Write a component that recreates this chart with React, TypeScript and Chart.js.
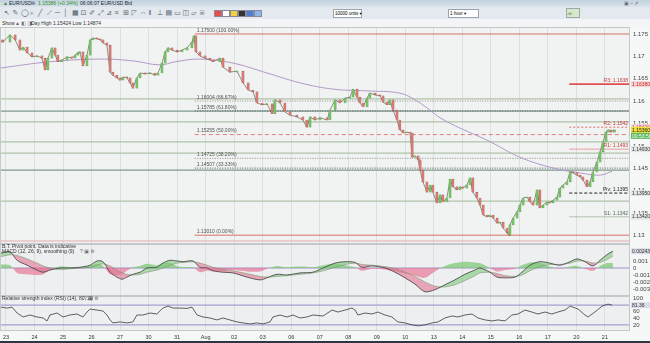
import React, { useEffect, useRef } from "react";
import { Chart, registerables } from "chart.js";

Chart.register(...registerables);

const FONT = "'Liberation Sans', 'DejaVu Sans', Arial, sans-serif";

// ---------------- DATA ----------------
const dayLabels = ["23", "24", "25", "26", "27", "30", "31", "Aug", "02", "03", "06", "07", "08", "09", "10", "13", "14", "15", "16", "17", "20", "21"];

const priceDays = [
  -0.21, -0.11, 0.14, 0.32, 0.49, 0.6, 0.74, 0.91, 1.09, 1.26,
  1.37, 1.47, 1.61, 1.72, 1.82, 1.96, 2.14, 2.31, 2.42, 2.52,
  2.59, 2.7, 2.84, 2.95, 3.05, 3.19, 3.3, 3.4, 3.54, 3.65,
  3.75, 3.89, 4.0, 4.1, 4.24, 4.35, 4.45, 4.59, 4.7, 4.87,
  5.05, 5.22, 5.33, 5.47, 5.58, 5.68, 5.82, 6.0, 6.17, 6.35,
  6.52, 6.59, 6.66, 6.8, 6.98, 7.15, 7.26, 7.5, 7.61, 7.85,
  8.1, 8.31, 8.49, 8.66, 8.8, 8.98, 9.15, 9.33, 9.43, 9.61,
  9.78, 9.96, 10.2, 10.41, 10.55, 10.66, 10.83, 11.01, 11.26, 11.36,
  11.54, 11.71, 11.89, 12.06, 12.17, 12.31, 12.41, 12.52, 12.66, 12.76,
  12.94, 13.11, 13.22, 13.36, 13.46, 13.57, 13.71, 13.81, 13.92, 14.06,
  14.17, 14.24, 14.34, 14.45, 14.52, 14.62, 14.76, 14.87, 14.97, 15.11,
  15.22, 15.32, 15.46, 15.57, 15.67, 15.81, 15.92, 16.02, 16.16, 16.27,
  16.37, 16.51, 16.62, 16.73, 16.87, 16.97, 17.08, 17.22, 17.32, 17.43,
  17.57, 17.64, 17.67, 17.78, 17.92, 18.02, 18.13, 18.27, 18.37, 18.48,
  18.62, 18.72, 18.83, 18.97, 19.07, 19.18, 19.32, 19.42, 19.53, 19.67,
  19.78, 19.88, 20.02, 20.13, 20.23, 20.37, 20.48, 20.58, 20.72, 20.83,
  20.93, 21.04, 21.11, 21.21, 21.33,
];

const priceClose = [
  1.1737, 1.1732, 1.1748, 1.1737, 1.1714, 1.1721, 1.1708, 1.1699, 1.1701, 1.1696,
  1.167, 1.1696, 1.1719, 1.1703, 1.1688, 1.1692, 1.1699, 1.1696, 1.1703, 1.1708,
  1.171, 1.1679, 1.1703, 1.1737, 1.1741, 1.1739, 1.1737, 1.173, 1.1725, 1.1665,
  1.1658, 1.1652, 1.1647, 1.1654, 1.1652, 1.1641, 1.1629, 1.1652, 1.1663, 1.1661,
  1.1663, 1.1658, 1.1663, 1.1685, 1.171, 1.1719, 1.1714, 1.171, 1.1714, 1.1719,
  1.1732, 1.1746, 1.171, 1.1701, 1.1696, 1.1692, 1.1688, 1.1696, 1.1676, 1.1665,
  1.1667, 1.1641, 1.1625, 1.1621, 1.1596, 1.1592, 1.1594, 1.1572, 1.1603, 1.1596,
  1.1576, 1.1569, 1.1565, 1.1558, 1.1542, 1.1565, 1.1558, 1.1563, 1.1558, 1.158,
  1.1603, 1.1596, 1.1607, 1.1609, 1.1627, 1.1609, 1.1596, 1.1587, 1.1607, 1.1618,
  1.1614, 1.1612, 1.1598, 1.1592, 1.1603, 1.158, 1.1558, 1.1536, 1.1529, 1.1531,
  1.1529, 1.1475, 1.1478, 1.1469, 1.1446, 1.142, 1.1397, 1.1413, 1.1397, 1.1373,
  1.1391, 1.1375, 1.1384, 1.1426, 1.1409, 1.1402, 1.1409, 1.1406, 1.1413, 1.1429,
  1.1397, 1.1384, 1.1368, 1.1346, 1.1342, 1.1346, 1.1339, 1.1328, 1.133, 1.1317,
  1.1306, 1.1301, 1.1324, 1.1339, 1.1353, 1.1368, 1.1384, 1.1386, 1.1375, 1.1368,
  1.1402, 1.1362, 1.1368, 1.1375, 1.1373, 1.1379, 1.1386, 1.1406, 1.1413, 1.142,
  1.1442, 1.144, 1.1435, 1.1431, 1.1424, 1.1409, 1.142, 1.1442, 1.1464, 1.1487,
  1.1509, 1.1531, 1.1536, 1.1531, 1.1536,
];
const firstOpen = 1.173;

const maDays = [-0.21, 1.54, 3.3, 4.45, 5.4, 5.93, 6.8, 7.96, 9.15, 10.31, 11.47, 12.66, 13.81, 14.34, 14.87, 15.22, 15.92, 16.87, 18.02, 19.18, 20.13, 20.83, 21.25];
const maValues = [1.1674, 1.1688, 1.1694, 1.169, 1.1681, 1.1688, 1.1694, 1.1685, 1.1663, 1.1641, 1.1627, 1.1623, 1.1618, 1.1603, 1.158, 1.1563, 1.154, 1.1513, 1.1475, 1.1451, 1.144, 1.1435, 1.1444];

const priceTicks = [1.13, 1.135, 1.14, 1.145, 1.15, 1.155, 1.16, 1.165, 1.17, 1.175];

const supportLevels = [1.1605, 1.1578, 1.1554, 1.1509, 1.1484, 1.1446, 1.1377];
const supportKinds = ["minor", "major", "minor", "minor", "minor", "major", "minor"];
const lowBandLevel = 1.1288;

const fibStartDay = 6.62;
const fibLevels = [1.175, 1.16004, 1.15785, 1.15255, 1.14725, 1.14507, 1.1301];
const fibPercents = ["100.00%", "66.67%", "61.80%", "50.00%", "38.20%", "33.33%", "0.00%"];

const pivotStartDay = 19.75;
const pivotNames = ["R3", "R2", "R1", "Piv", "S1"];
const pivotLevels = [1.1638, 1.1542, 1.1493, 1.1395, 1.1342];
const candleTimer = "00:53:56";

const macdDays = [-0.21, 0.14, 0.39, 0.74, 1.09, 1.3, 1.54, 1.89, 2.24, 2.59, 2.95, 3.19, 3.4, 3.65, 3.89, 4.07, 4.24, 4.45, 4.7, 4.94, 5.29, 5.5, 5.75, 6.0, 6.21, 6.56, 6.8, 7.05, 7.26, 7.61, 7.96, 8.45, 8.91, 9.15, 9.5, 9.85, 10.31, 10.76, 11.12, 11.54, 11.89, 12.24, 12.48, 12.83, 13.29, 13.64, 13.99, 14.34, 14.69, 15.04, 15.39, 15.74, 16.09, 16.44, 16.62, 16.97, 17.22, 17.5, 17.85, 18.09, 18.37, 18.72, 19.07, 19.42, 19.78, 20.02, 20.3, 20.58, 20.83, 21.07, 21.28];
const macdValues = [0.0021, 0.0023, 0.0011, 0.0004, -0.0003, -0.0006, -0.0003, 0.0, 0.0, 0.0001, 0.0004, 0.001, 0.0009, -0.0006, -0.0013, -0.0016, -0.0013, -0.0009, -0.0006, 0.0, 0.0001, 0.0007, 0.0011, 0.001, 0.0009, 0.001, 0.0001, 0.0, -0.0004, -0.0006, -0.0007, -0.0013, -0.0017, -0.0014, -0.0009, -0.001, -0.0007, -0.0006, 0.0, 0.0007, 0.0009, 0.0008, 0.0001, 0.0003, 0.0, -0.0006, -0.0014, -0.0023, -0.0034, -0.0031, -0.0024, -0.0017, -0.0009, -0.0003, 0.0, -0.0006, -0.0013, -0.0014, -0.0013, -0.0006, 0.0004, 0.0009, 0.0007, 0.0004, 0.0009, 0.0013, 0.0009, 0.0003, 0.0011, 0.0019, 0.0024];
const signalValues = [0.0016, 0.0019, 0.0018, 0.0013, 0.0007, 0.0003, 0.0, -0.0002, -0.0001, 0.0, 0.0001, 0.0004, 0.0006, 0.0003, -0.0003, -0.0007, -0.0009, -0.001, -0.0009, -0.0006, -0.0003, 0.0, 0.0004, 0.0007, 0.0008, 0.0009, 0.0007, 0.0004, 0.0001, -0.0002, -0.0004, -0.0008, -0.0012, -0.0013, -0.0012, -0.0011, -0.0009, -0.0007, -0.0004, 0.0001, 0.0005, 0.0007, 0.0005, 0.0004, 0.0002, -0.0001, -0.0006, -0.0012, -0.002, -0.0026, -0.0027, -0.0024, -0.0018, -0.0011, -0.0007, -0.0006, -0.0008, -0.0011, -0.0012, -0.001, -0.0004, 0.0002, 0.0005, 0.0005, 0.0007, 0.001, 0.001, 0.0007, 0.0008, 0.0012, 0.0017];
const macdTicks = [-0.003, -0.002, -0.001, 0, 0.001];
const macdCurrentLabel = "0.00243";

const rsiDays = [
  -0.21, 0.04, 0.21, 0.39, 0.6, 0.84, 1.09, 1.3, 1.44, 1.54,
  1.79, 2.0, 2.24, 2.49, 2.7, 2.84, 2.95, 3.19, 3.4, 3.54,
  3.65, 3.75, 4.0, 4.24, 4.45, 4.59, 4.8, 5.05, 5.29, 5.5,
  5.68, 5.86, 6.1, 6.35, 6.52, 6.7, 6.91, 7.15, 7.4, 7.61,
  7.85, 8.1, 8.31, 8.56, 8.8, 9.01, 9.26, 9.36, 9.61, 9.85,
  10.06, 10.31, 10.55, 10.76, 11.12, 11.43, 11.64, 11.89, 12.13, 12.24,
  12.34, 12.59, 12.83, 13.04, 13.29, 13.53, 13.74, 13.99, 14.24, 14.45,
  14.69, 14.94, 15.15, 15.39, 15.64, 15.85, 16.09, 16.34, 16.55, 16.8,
  17.04, 17.25, 17.5, 17.74, 17.95, 18.2, 18.44, 18.65, 18.9, 19.14,
  19.35, 19.6, 19.78, 20.06, 20.3, 20.41, 20.65, 20.9, 21.11, 21.25,
];
const rsiValues = [
  74, 71, 74, 56, 44, 50, 44, 41, 32, 50,
  56, 44, 50, 53, 44, 59, 68, 65, 62, 50,
  35, 26, 29, 26, 29, 50, 50, 56, 53, 71,
  77, 71, 71, 70, 74, 50, 44, 41, 35, 41,
  35, 29, 26, 23, 26, 23, 29, 44, 50, 44,
  50, 41, 44, 50, 47, 65, 59, 65, 71, 65,
  50, 56, 53, 59, 50, 44, 29, 26, 20, 17,
  20, 26, 29, 41, 47, 44, 50, 53, 41, 35,
  32, 35, 32, 50, 53, 65, 59, 53, 59, 53,
  59, 65, 77, 68, 50, 44, 59, 77, 83, 80,
];
const rsiLevels = [80, 20];
const rsiTicks = [20, 40, 60, 100];
const rsiCurrentLabel = "81.36";

// ---------------- CHART HELPERS ----------------
const X_MIN = -0.21;
const X_MAX = 21.88;
const AXIS_W = 20;

function hline(v: number, x0: number, x1: number, color: string, width: number, dash: number[] = [], order = 20): any {
  return {
    type: "line",
    data: [{ x: x0, y: v }, { x: x1, y: v }],
    borderColor: color,
    borderWidth: width,
    borderDash: dash,
    pointRadius: 0,
    order,
  };
}

function xScale(showLabels: boolean, height: number): any {
  return {
    type: "linear",
    min: X_MIN,
    max: X_MAX,
    offset: false,
    afterBuildTicks: (s: any) => {
      s.ticks = dayLabels.map((_, i) => ({ value: i }));
    },
    grid: { color: "#dcdfe0", lineWidth: 1, drawTicks: false, offset: false },
    border: { display: false },
    ticks: {
      display: showLabels,
      autoSkip: false,
      maxRotation: 0,
      padding: 3,
      font: { size: 5.5, family: FONT },
      color: "#333",
      callback: (v: any) => dayLabels[Math.round(v)] ?? "",
    },
    afterFit: (s: any) => {
      s.height = height;
      s.paddingLeft = 0;
      s.paddingRight = 0;
    },
  };
}

function yScale(min: number, max: number, ticks: number[], fmt: (v: number) => string): any {
  return {
    position: "right",
    min,
    max,
    afterBuildTicks: (s: any) => {
      s.ticks = ticks.map((v) => ({ value: v }));
    },
    afterFit: (s: any) => {
      s.width = AXIS_W;
      s.paddingTop = 0;
      s.paddingBottom = 0;
    },
    grid: { display: false, drawTicks: false },
    border: { display: false },
    ticks: {
      autoSkip: false,
      padding: 3,
      font: { size: 6, family: FONT },
      color: "#444",
      callback: (v: any) => fmt(Number(v)),
    },
  };
}

function bgPlugin(inner: string, outer: string) {
  return {
    id: "bg",
    beforeDraw(chart: any) {
      const { ctx, chartArea: a } = chart;
      ctx.save();
      ctx.fillStyle = outer;
      ctx.fillRect(0, 0, chart.width, chart.height);
      ctx.fillStyle = inner;
      ctx.fillRect(a.left, a.top, a.right - a.left, a.bottom - a.top);
      ctx.restore();
    },
    afterDraw(chart: any) {
      const { ctx, chartArea: a } = chart;
      ctx.save();
      ctx.strokeStyle = "#c3c8cb";
      ctx.lineWidth = 1;
      ctx.strokeRect(a.left + 0.5, a.top + 0.5, a.right - a.left - 1, a.bottom - a.top - 1);
      ctx.restore();
    },
  };
}

function axisBox(ctx: any, x: number, y: number, text: string, fill: string, color: string) {
  ctx.save();
  ctx.fillStyle = fill;
  ctx.fillRect(x, y - 3, AXIS_W - 1, 6);
  ctx.fillStyle = color;
  ctx.font = `5px ${FONT}`;
  ctx.textAlign = "left";
  ctx.textBaseline = "middle";
  ctx.fillText(text, x + 1, y + 0.3);
  ctx.restore();
}

const baseOptions: any = {
  responsive: false,
  animation: false,
  events: [],
  layout: { padding: 0 },
  plugins: { legend: { display: false }, tooltip: { enabled: false } },
};

// ---------------- MAIN PRICE PANEL ----------------
function mainConfig(): any {
  const candles = priceDays.map((d, i) => ({ x: d, y: [i === 0 ? firstOpen : priceClose[i - 1], priceClose[i]] }));
  const up = candles.map((c) => c.y[1] >= c.y[0]);
  const datasets: any[] = [];

  supportLevels.forEach((v, i) => {
    datasets.push(hline(v, X_MIN, X_MAX, supportKinds[i] === "major" ? "#7f9a8c" : "#afc3aa", 1.2, [], 30));
  });
  datasets.push(hline(lowBandLevel, X_MIN, X_MAX, "#e6a9b0", 1, [], 30));

  fibLevels.forEach((v, i) => {
    const p = fibPercents[i];
    let color = "#8d8d8d";
    let dash: number[] = [1, 1.5];
    if (p === "100.00%" || p === "0.00%") {
      color = "#d9716c";
      dash = [];
    } else if (p === "50.00%") {
      color = "#df7f78";
      dash = [4, 3];
    } else if (p === "61.80%" || p === "33.33%") {
      color = "#4f5a55";
    }
    datasets.push(hline(v, fibStartDay, X_MAX, color, 1, dash, 25));
  });

  pivotNames.forEach((n, i) => {
    const v = pivotLevels[i];
    let color = "#e48b8b";
    let dash: number[] = [];
    let w = 0.8;
    if (n === "R3") {
      color = "#e05050";
      w = 1.6;
    } else if (n === "R2") {
      color = "#e36a6a";
      dash = [2, 2];
      w = 1;
    } else if (n === "Piv") {
      color = "#222";
      dash = [3, 2];
      w = 1;
    } else if (n === "S1") {
      color = "#9fb59d";
    }
    datasets.push(hline(v, pivotStartDay, X_MAX, color, w, dash, 24));
  });

  datasets.push({
    type: "line",
    data: maDays.map((d, i) => ({ x: d, y: maValues[i] })),
    borderColor: "#b39ac6",
    borderWidth: 1,
    pointRadius: 0,
    tension: 0.4,
    order: 10,
  });
  datasets.push({
    type: "line",
    data: priceDays.map((d, i) => ({ x: d, y: priceClose[i] })),
    borderColor: "#6b5d52",
    borderWidth: 0.7,
    pointRadius: 0,
    order: 3,
  });
  datasets.push({
    type: "bar",
    data: candles,
    backgroundColor: up.map((u) => (u ? "#72c463" : "#d97a72")),
    borderColor: up.map((u) => (u ? "#4d8a43" : "#8a4a40")),
    borderWidth: 0.4,
    borderSkipped: false,
    barThickness: 2.2,
    minBarLength: 1,
    grouped: false,
    order: 1,
  });

  const overlay = {
    id: "mainOverlay",
    afterDatasetsDraw(chart: any) {
      const { ctx, chartArea: a, scales } = chart;
      const x = scales.x;
      const y = scales.y;
      ctx.save();
      ctx.font = `5px ${FONT}`;
      ctx.textBaseline = "bottom";
      ctx.textAlign = "left";
      ctx.fillStyle = "#505050";
      fibLevels.forEach((v, i) => {
        ctx.fillText(`${v.toFixed(5)} (${fibPercents[i]})`, x.getPixelForValue(fibStartDay) + 2, y.getPixelForValue(v) - 1);
      });
      ctx.textAlign = "right";
      pivotNames.forEach((n, i) => {
        const v = pivotLevels[i];
        ctx.fillStyle = n.startsWith("R") ? "#c23a3a" : n === "Piv" ? "#222" : "#4d6b4d";
        ctx.fillText(`${n}: ${v.toFixed(4)}`, a.right - 2, y.getPixelForValue(v) - 1);
      });
      ctx.restore();
    },
    afterDraw(chart: any) {
      const { ctx, chartArea: a, scales } = chart;
      const y = scales.y;
      const bx = a.right + 1;
      pivotNames.forEach((n, i) => {
        const v = pivotLevels[i];
        const py = y.getPixelForValue(v);
        if (n === "R3") axisBox(ctx, bx, py, v.toFixed(5), "#f6d3d3", "#c42f2f");
        else if (n === "R2") axisBox(ctx, bx, py, v.toFixed(5), "#f7dede", "#c44");
        else axisBox(ctx, bx, py, v.toFixed(5), "#e4e6e6", "#333");
      });
      const last = priceClose[priceClose.length - 1];
      const ly = y.getPixelForValue(last);
      axisBox(ctx, bx, ly, last.toFixed(5), "#f0df3c", "#222");
      axisBox(ctx, bx, ly + 6, candleTimer, "#5cb85c", "#fff");
    },
  };

  return {
    type: "bar",
    data: { datasets },
    options: {
      ...baseOptions,
      scales: {
        x: xScale(false, 0),
        y: yScale(1.12813, 1.17656, priceTicks, (v) => String(+v.toFixed(3))),
      },
    },
    plugins: [bgPlugin("#f1f2f2", "#f6f7f7"), overlay],
  };
}

// ---------------- MACD PANEL ----------------
function macdConfig(): any {
  const hist = macdValues.map((m, i) => m - signalValues[i]);
  const datasets: any[] = [
    hline(0, X_MIN, X_MAX, "#9d92c8", 1, [], 30),
    {
      type: "line",
      data: macdDays.map((d, i) => ({ x: d, y: hist[i] })),
      borderWidth: 0,
      pointRadius: 0,
      tension: 0.3,
      fill: { target: { value: 0 }, above: "rgba(120,200,110,0.7)", below: "rgba(230,120,150,0.7)" },
      order: 20,
    },
    {
      type: "line",
      data: macdDays.map((d, i) => ({ x: d, y: signalValues[i] })),
      borderColor: "rgba(90,140,90,0.9)",
      borderWidth: 0.6,
      pointRadius: 0,
      tension: 0.3,
      order: 4,
    },
    {
      type: "line",
      data: macdDays.map((d, i) => ({ x: d, y: macdValues[i] })),
      borderColor: "#4d4d4d",
      borderWidth: 0.9,
      pointRadius: 0,
      tension: 0.3,
      fill: { target: 2, above: "rgba(125,200,125,0.6)", below: "rgba(226,115,145,0.6)" },
      order: 3,
    },
  ];
  const overlay = {
    id: "macdOverlay",
    afterDraw(chart: any) {
      const { ctx, chartArea: a, scales } = chart;
      ctx.save();
      ctx.font = `5px ${FONT}`;
      ctx.textBaseline = "middle";
      ctx.fillStyle = "#333";
      ctx.fillText("B.T. Pivot point. Data is indicative", 2, 2.5);
      ctx.fillText("MACD (12, 26, 9), smoothing (9)", 2, 7.5);
      ctx.fillStyle = "#666";
      ctx.fillText("? ▣ ⚙", 80, 7.5);
      ctx.restore();
      const last = macdValues[macdValues.length - 1];
      axisBox(ctx, a.right + 1, scales.y.getPixelForValue(last), macdCurrentLabel, "#d9dde8", "#333");
    },
  };
  return {
    type: "line",
    data: { datasets },
    options: {
      ...baseOptions,
      scales: {
        x: xScale(false, 0),
        y: yScale(-0.004, 0.00343, macdTicks, (v) => (Math.abs(v) < 1e-9 ? "0" : v.toFixed(3))),
      },
    },
    plugins: [bgPlugin("#eeeff0", "#f6f7f7"), overlay],
  };
}

// ---------------- RSI PANEL ----------------
function rsiConfig(): any {
  const datasets: any[] = [
    ...rsiLevels.map((v) => hline(v, X_MIN, X_MAX, "#958bcc", 1, [], 30)),
    {
      type: "line",
      data: rsiDays.map((d, i) => ({ x: d, y: rsiValues[i] })),
      borderColor: "#3a3a3a",
      borderWidth: 0.8,
      pointRadius: 0,
      order: 2,
    },
  ];
  const overlay = {
    id: "rsiOverlay",
    afterDraw(chart: any) {
      const { ctx, chartArea: a, scales } = chart;
      ctx.save();
      ctx.font = `5px ${FONT}`;
      ctx.textBaseline = "middle";
      ctx.fillStyle = "#333";
      ctx.fillText("Relative strength index (RSI) (14), 80, 20", 2, 3);
      ctx.fillStyle = "#666";
      ctx.fillText("? ▣ ⚙", 84, 3);
      ctx.restore();
      const last = rsiValues[rsiValues.length - 1];
      axisBox(ctx, a.right + 1, scales.y.getPixelForValue(last), rsiCurrentLabel, "#d9dde8", "#333");
    },
  };
  return {
    type: "line",
    data: { datasets },
    options: {
      ...baseOptions,
      scales: {
        x: xScale(true, 10),
        y: yScale(1.5, 107.6, rsiTicks, (v) => String(Math.round(v))),
      },
    },
    plugins: [bgPlugin("#eeeff0", "#f6f7f7"), overlay],
  };
}

// ---------------- TOOLBAR (decoration) ----------------
const toolGlyphs = ["↖", "✎", "◯", "⌕", "╱", "⟋", "─", "│", "▦", "⊡", "✐", "⤢", "⊿", "≡", "⊞", "◸", "⇔", "‖", "⊥", "▤", "▭", "◫", "▱", "⌸"];
const swatches = ["#e84c4c", "#ffffff", "#f1d23a", "#333333", "#4a7fd6", "#8fb4e8"];

export default function App() {
  const mainRef = useRef<HTMLCanvasElement>(null);
  const macdRef = useRef<HTMLCanvasElement>(null);
  const rsiRef = useRef<HTMLCanvasElement>(null);

  useEffect(() => {
    const charts = [
      new Chart(mainRef.current as any, mainConfig()),
      new Chart(macdRef.current as any, macdConfig()),
      new Chart(rsiRef.current as any, rsiConfig()),
    ];
    return () => charts.forEach((c) => c.destroy());
  }, []);

  const abs = (l: number, t: number, extra: any = {}) => ({ position: "absolute" as const, left: l, top: t, whiteSpace: "nowrap" as const, ...extra });

  return (
    <div style={{ position: "fixed", left: 0, top: 0, width: 650, height: 343, overflow: "hidden", background: "#eef0f1", fontFamily: FONT }}>
      {/* row 1 */}
      <div style={abs(0, 0, { width: 650, height: 7, background: "linear-gradient(#c3d3df,#d8e2e9)", fontSize: 5, lineHeight: "7px", color: "#223" })}>
        <span style={abs(3, 0, { color: "#3a8a3a" })}>▲</span>
        <span style={abs(9, 0)}>EUR/USD</span>
        <span style={abs(31, 0, { color: "#556" })}>⊞</span>
        <span style={abs(38, 0, { color: "#2f8f2f" })}>1.15386 (+0.34%)</span>
        <span style={abs(80, 0)}>06:06:07 EUR/USD Bid</span>
        <span style={abs(624, 0, { color: "#667" })}>▣ – ↗</span>
      </div>
      {/* row 2 */}
      <div style={abs(0, 7, { width: 650, height: 12, background: "#e3e9ee" })}>
        {toolGlyphs.map((g, i) => (
          <span key={i} style={abs(4 + i * 8.5, 1, { fontSize: 7, lineHeight: "10px", color: "#55606a" })}>{g}</span>
        ))}
        {swatches.map((c, i) => (
          <span key={"s" + i} style={abs(214 + i * 8, 3, { width: 6, height: 5, background: c, border: "1px solid #889" })} />
        ))}
        <span style={abs(333, 2, { width: 26, height: 7, background: "#fff", border: "1px solid #99a5b0", fontSize: 4.5, lineHeight: "7px", paddingLeft: 1 })}>10000 units ▾</span>
        <span style={abs(448, 2, { width: 28, height: 7, background: "#fff", border: "1px solid #99a5b0", fontSize: 4.5, lineHeight: "7px", paddingLeft: 1 })}>1 hour ▾</span>
        <span style={abs(566, 1, { width: 12, height: 8, background: "#d8e8c8", border: "1px solid #9aa", fontSize: 5, lineHeight: "8px", color: "#474" })}>⩘⩗</span>
      </div>
      {/* row 3 */}
      <div style={abs(0, 19, { width: 650, height: 8, background: "#f2f4f5", fontSize: 5, lineHeight: "8px", color: "#333" })}>
        <span style={abs(2, 0)}>Show</span>
        <span style={abs(15, 0, { color: "#667" })}>▲ ◧ ◨</span>
        <span style={abs(31, 0)}>Day High 1.15424  Low 1.14874</span>
      </div>
      <canvas ref={mainRef} width={650} height={217} style={abs(0, 27)} />
      <canvas ref={macdRef} width={650} height={52} style={abs(0, 244)} />
      <canvas ref={rsiRef} width={650} height={45} style={abs(0, 296)} />
      <div style={abs(0, 341, { width: 650, height: 2, background: "#2d3742" })} />
    </div>
  );
}
